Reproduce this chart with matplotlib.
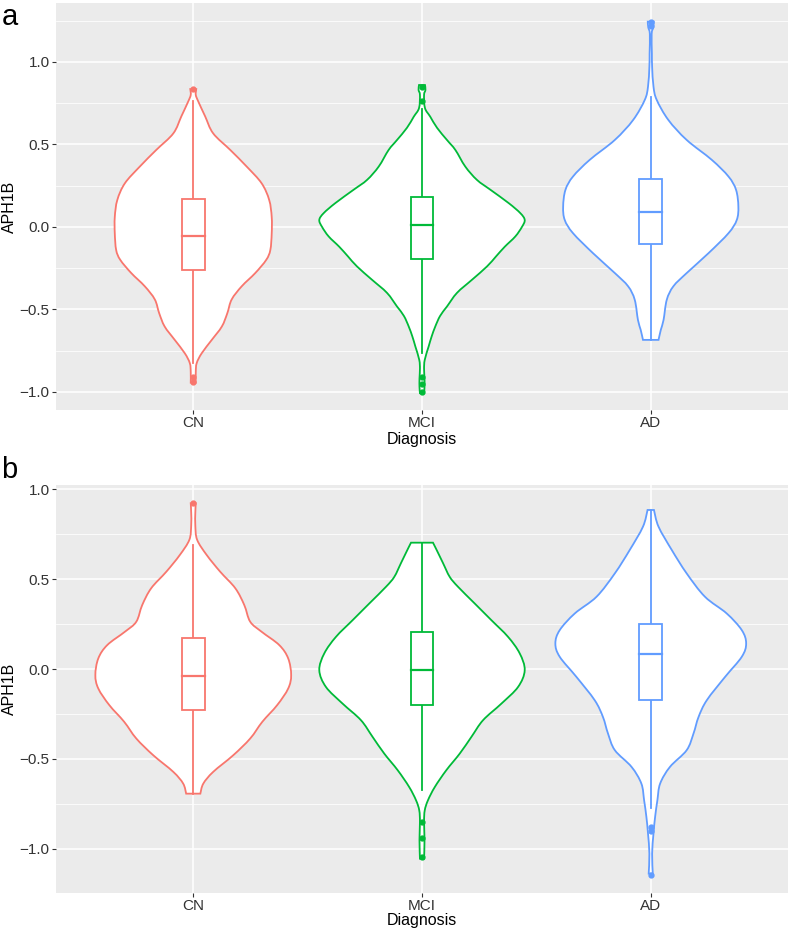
import numpy as np
import matplotlib
matplotlib.use("Agg")
import matplotlib.pyplot as plt
from matplotlib.path import Path
from matplotlib.patches import PathPatch

plt.rcParams['font.family'] = ['Liberation Sans', 'DejaVu Sans']

groups = ["CN", "MCI", "AD"]
colors = ["#F8766D", "#00BA38", "#619CFF"]

# violin outlines: y values and half widths (x-axis units)
a_cn_y = [0.835, 0.80, 0.76, 0.67, 0.567, 0.466, 0.365, 0.264, 0.163, 0.06, -0.04, -0.14, -0.2,
          -0.28, -0.36, -0.44, -0.523, -0.604, -0.685, -0.766, -0.826, -0.88, -0.944]
a_cn_w = [0.013, 0.011, 0.022, 0.052, 0.087, 0.162, 0.234, 0.299, 0.332, 0.343, 0.343, 0.337, 0.319,
          0.271, 0.212, 0.168, 0.149, 0.125, 0.081, 0.037, 0.015, 0.011, 0.011]
a_mci_y = [0.86, 0.83, 0.80, 0.72, 0.668, 0.60, 0.527, 0.466, 0.366, 0.285, 0.225, 0.144, 0.083, 0.042,
           0.0, -0.058, -0.12, -0.18, -0.24, -0.32, -0.40, -0.483, -0.54, -0.604, -0.665, -0.725,
           -0.806, -0.86, -0.92, -0.97, -1.008]
a_mci_w = [0.013, 0.015, 0.009, 0.013, 0.036, 0.066, 0.109, 0.146, 0.189, 0.240, 0.299, 0.379, 0.430, 0.449,
           0.437, 0.408, 0.362, 0.323, 0.284, 0.219, 0.153, 0.109, 0.079, 0.058, 0.042, 0.029,
           0.012, 0.009, 0.011, 0.011, 0.009]
a_ad_y = [1.244, 1.21, 1.17, 1.05, 0.97, 0.85, 0.77, 0.648, 0.527, 0.406, 0.305, 0.224, 0.123, 0.042,
          -0.038, -0.16, -0.28, -0.36, -0.442, -0.564, -0.624, -0.685]
a_ad_w = [0.013, 0.011, 0.004, 0.005, 0.006, 0.012, 0.026, 0.077, 0.157, 0.267, 0.340, 0.373, 0.383, 0.376,
          0.340, 0.252, 0.157, 0.099, 0.070, 0.056, 0.044, 0.034]

b_cn_y = [0.923, 0.87, 0.80, 0.72, 0.635, 0.542, 0.45, 0.357, 0.264, 0.208, 0.134, 0.06, -0.033, -0.108,
          -0.2, -0.293, -0.386, -0.479, -0.572, -0.637, -0.693]
b_cn_w = [0.011, 0.009, 0.009, 0.017, 0.059, 0.118, 0.184, 0.223, 0.249, 0.299, 0.376, 0.415, 0.428, 0.415,
          0.367, 0.302, 0.249, 0.175, 0.087, 0.044, 0.031]
b_mci_y = [0.704, 0.666, 0.59, 0.514, 0.459, 0.366, 0.273, 0.18, 0.088, -0.006, -0.099, -0.192, -0.284,
           -0.377, -0.47, -0.563, -0.656, -0.73, -0.786, -0.85, -0.95, -1.055]
b_mci_w = [0.048, 0.063, 0.092, 0.121, 0.157, 0.230, 0.303, 0.376, 0.427, 0.449, 0.420, 0.347, 0.267,
           0.216, 0.165, 0.106, 0.056, 0.026, 0.012, 0.009, 0.011, 0.009]
b_ad_y = [0.886, 0.793, 0.663, 0.533, 0.403, 0.31, 0.217, 0.143, 0.069, -0.043, -0.173, -0.266, -0.358,
          -0.451, -0.544, -0.637, -0.73, -0.823, -0.915, -1.027, -1.138]
b_ad_w = [0.014, 0.034, 0.092, 0.157, 0.237, 0.332, 0.398, 0.417, 0.398, 0.325, 0.245, 0.209, 0.187,
          0.157, 0.084, 0.041, 0.029, 0.019, 0.012, 0.006, 0.009]

# box stats: whisker low, q1, median, q3, whisker high
a_box = [[-0.826, -0.26, -0.055, 0.17, 0.76],
         [-0.766, -0.196, 0.012, 0.18, 0.715],
         [-0.685, -0.103, 0.089, 0.289, 0.79]]
b_box = [[-0.693, -0.228, -0.039, 0.171, 0.69],
         [-0.674, -0.202, -0.006, 0.204, 0.704],
         [-0.773, -0.173, 0.087, 0.25, 0.886]]
a_out = [[0.834, -0.907, -0.938], [0.765, 0.85, -0.907, -0.95, -0.998], [1.22, 1.24]]
b_out = [[0.923], [-0.85, -0.94, -1.046], [-0.88, -0.9, -1.144]]

panels = [
    ("a", [(a_cn_y, a_cn_w), (a_mci_y, a_mci_w), (a_ad_y, a_ad_w)], a_box, a_out, (-1.11, 1.357)),
    ("b", [(b_cn_y, b_cn_w), (b_mci_y, b_mci_w), (b_ad_y, b_ad_w)], b_box, b_out, (-1.246, 1.025)),
]


def smooth_side(pts):
    # catmull-rom through the outline points, as cubic bezier pieces
    p = np.vstack([pts[0], pts, pts[-1]])
    verts, codes = [], []
    for i in range(1, len(p) - 2):
        c1 = p[i] + (p[i + 1] - p[i - 1]) / 6
        c2 = p[i + 1] - (p[i + 2] - p[i]) / 6
        verts += [c1, c2, p[i + 1]]
        codes += [Path.CURVE4] * 3
    return verts, codes


def violin_path(c, vy, vw):
    vy = np.array(vy)
    vw = np.array(vw)
    right = np.column_stack([c + vw, vy])
    left = np.column_stack([c - vw, vy])[::-1]
    verts = [right[0]]
    codes = [Path.MOVETO]
    v, k = smooth_side(right)
    verts += v
    codes += k
    verts.append(left[0])
    codes.append(Path.LINETO)
    v, k = smooth_side(left)
    verts += v
    codes += k
    verts.append(right[0])
    codes.append(Path.CLOSEPOLY)
    return Path(np.array(verts), codes)


fig = plt.figure(figsize=(7.89, 9.3), dpi=100)
rects = [[56/789, 1-410/930, 732/789, 407/930], [56/789, 1-893/930, 732/789, 408/930]]
# label centres in figure pixels: (ylabel x, ylabel y, xlabel y)
label_pos = [(9.5, 207, 439), (9.5, 689, 920)]

for (label, violins, boxes, outs, ylim), rect, lp in zip(panels, rects, label_pos):
    ax = fig.add_axes(rect)
    ax.set_facecolor("#EBEBEB")
    for s in ax.spines.values():
        s.set_visible(False)
    ax.set_yticks([-1.0, -0.5, 0.0, 0.5, 1.0])
    ax.set_yticklabels(["\u22121.0", "\u22120.5", "0.0", "0.5", "1.0"])
    ax.set_yticks([-0.75, -0.25, 0.25, 0.75, 1.25], minor=True)
    ax.set_xticks([1, 2, 3])
    ax.set_xticklabels(groups)
    ax.set_xlim(0.4, 3.6)
    ax.set_ylim(*ylim)
    ax.grid(True, which="major", color="white", lw=1.1)
    ax.grid(True, which="minor", axis="y", color="white", lw=0.55)
    ax.set_axisbelow(True)
    ax.tick_params(which="major", length=3, width=0.8, color="#333333", labelsize=11,
                   labelcolor="#333333", pad=1.5)
    ax.tick_params(which="minor", length=0)
    fig.text(lp[0] / 789, 1 - lp[1] / 930, "APH1B", fontsize=11.5, rotation=90,
             ha="center", va="center")
    fig.text((rect[0] + rect[2] / 2), 1 - lp[2] / 930, "Diagnosis", fontsize=11.5,
             ha="center", va="center")

    for i, ((vy, vw), st, pts, col) in enumerate(zip(violins, boxes, outs, colors)):
        c = i + 1
        ax.add_patch(PathPatch(violin_path(c, vy, vw), facecolor="white", edgecolor=col,
                               lw=1.3, zorder=2))
        lo, q1, med, q3, hi = st
        ax.plot([c, c], [q3, hi], color=col, lw=1.3, zorder=3)
        ax.plot([c, c], [lo, q1], color=col, lw=1.3, zorder=3)
        ax.add_patch(plt.Rectangle((c - 0.05, q1), 0.1, q3 - q1, facecolor="white",
                                   edgecolor=col, lw=1.3, zorder=3))
        ax.plot([c - 0.05, c + 0.05], [med, med], color=col, lw=1.6, zorder=4)
        ax.plot([c] * len(pts), pts, "o", color=col, ms=3.5, zorder=4)

    fig.text(0.002, rect[1] + rect[3] + (0.0 if label == "a" else 0.031), label,
             fontsize=21, ha="left", va="top")

fig.savefig("out.png", dpi=100)
